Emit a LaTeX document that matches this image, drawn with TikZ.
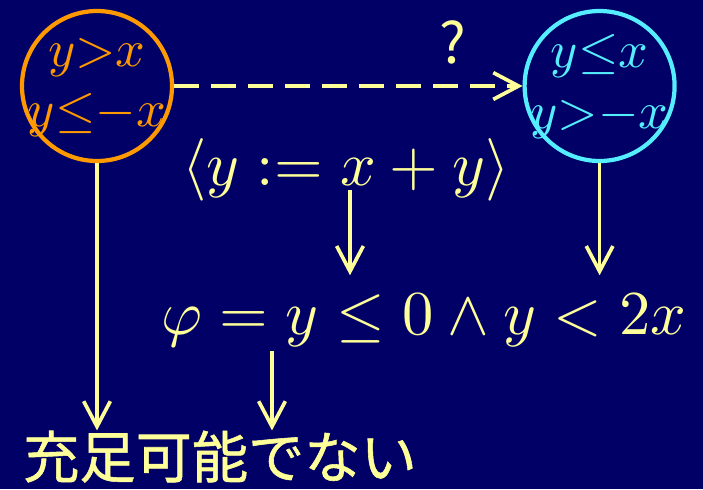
\RequirePackage{fix-cm}
\documentclass[tikz,border=0pt]{standalone}
\usepackage{fontspec}
\newfontfamily\jpfont[FakeBold=1]{Noto Sans CJK JP}
\newfontfamily\qfont{Noto Sans CJK JP}
\usetikzlibrary{positioning,arrows.meta,calc}
\definecolor{wpBg}{RGB}{0,0,102}
\definecolor{wpInk}{RGB}{255,255,153}
\definecolor{wpPre}{RGB}{255,153,0}
\definecolor{wpPost}{RGB}{85,238,255}
\tikzset{
  wp/state/.style={circle, draw, line width=3pt, minimum size=3.75cm, inner sep=0pt},
  wp/cond/.style={anchor=base, inner sep=0pt, font=\normalsize, scale=3.7},
  wp/formula/.style={anchor=base, text=wpInk, inner sep=0pt,
                     font=\normalsize, scale=4.45},
  wp/jp/.style={anchor=base, text=wpInk, inner sep=0pt,
                font=\jpfont\fontsize{40}{48}\selectfont},
  wp/arrow/.style={-{Straight Barb[length=18pt, width=19pt]}, line width=2.6pt, draw=wpInk},
  wp/guess arrow/.style={wp/arrow, dash pattern=on 17.8pt off 8.5pt},
}

\begin{document}
\begin{tikzpicture}
  \useasboundingbox (0,0) rectangle (17.575,-12.225);
  \fill[wpBg] (0,0) rectangle (17.575,-12.225);

  % ---------------- states ----------------
  \node[wp/state, draw=wpPre] (pre) at (2.425,-2.15) {};
  \node[wp/state, draw=wpPost] (post) at (14.99,-2.15) {};
  \node[wp/cond, text=wpPre] (preA) at ([yshift=5mm]pre.center) {$y{>}x$};
  \node[wp/cond, text=wpPre] (preB) at ([yshift=-10mm]pre.center) {$y{\le}{-}x$};
  \node[wp/cond, text=wpPost] (postA) at ([yshift=4.75mm]post.center) {$y{\le}x$};
  \node[wp/cond, text=wpPost] (postB) at ([yshift=-10.5mm]post.center) {$y{>}{-}x$};

  \draw[wp/guess arrow] (pre) -- (post);
  \node[text=wpInk, font=\qfont\fontsize{40}{48}\selectfont] (guess)
    at (11.325,-1.05) {?};

  % ---------------- formulas ----------------
  \node[wp/formula] (assign) at (8.65,-4.625) {$\langle y := x+y \rangle$};
  \node[wp/formula] (phi) at (10.6,-8.35) {$\varphi = y \le 0 \wedge y < 2x$};
  \node[wp/jp] (unsat) at (5.5,-11.95) {充足可能でない};

  % ---------------- edges ----------------
  \coordinate (tipline) at ([yshift=4.3mm]phi.north);
  \draw[wp/arrow] ([xshift=1mm, yshift=-1.2mm]assign.base)
    -- ([xshift=1mm]assign.base |- tipline);
  \draw[wp/arrow] (post.south) -- (post.south |- tipline);
  \draw[wp/arrow] (pre.south) -- (pre.south |- unsat.north);
  \draw[wp/arrow] ([xshift=1.3cm, yshift=-1mm]unsat.north |- phi.south)
    -- ([xshift=1.3cm]unsat.north);

\end{tikzpicture}
\end{document}
